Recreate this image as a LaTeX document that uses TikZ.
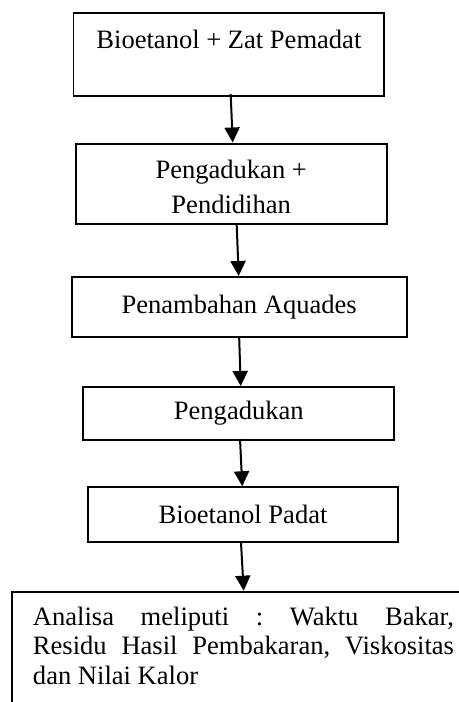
\documentclass[tikz,border=0pt]{standalone}
\usepackage{fontspec}
\setmainfont{Liberation Serif}
\usetikzlibrary{positioning}
\usetikzlibrary{arrows.meta}

\newdimen\pxu
\pxu=0.452pt

\tikzset{
	stepbox/.style={draw, line width=0.9pt, align=center, inner sep=2pt, font=\fontsize{12}{16}\selectfont},
	flow/.style={line width=0.9pt, -{Triangle[length=6.8pt, width=6.8pt]}},
}

\begin{document}
\frenchspacing
\begin{tikzpicture}[x=0.452pt, y=-0.452pt]
		% Page frame
		\clip (0,0) rectangle (459,702);

		% Process steps
		\node[stepbox, minimum width=310.8\pxu, minimum height=83.5\pxu] (bio) at (228.9,54.25) {\rule{0pt}{11pt}Bioetanol + Zat Pemadat\\ \mbox{}};
		\node[stepbox, minimum width=311\pxu, minimum height=80.5\pxu] (didih) at (231.2,183.75) {\rule{0pt}{11pt}Pengadukan +\\ Pendidihan};
		\node[stepbox, minimum width=335\pxu, minimum height=60\pxu] (aquades) at (239.2,307) {Penambahan Aquades};
		\node[stepbox, minimum width=311\pxu, minimum height=53\pxu] (aduk) at (238.8,413.5) {Pengadukan};
		\node[stepbox, minimum width=310.6\pxu, minimum height=54.4\pxu] (padat) at (243,514.5) {Bioetanol Padat};

		% Analysis box, cut by the page
		\node[draw, line width=0.9pt, anchor=north west, text width=421\pxu, align=justify, inner xsep=21\pxu, inner ysep=15\pxu, text depth=40pt, font=\fontsize{12}{13.4}\selectfont\frenchspacing] (analisa) at (11,590.7) {Analisa meliputi : Waktu Bakar,\linebreak Residu Hasil Pembakaran, Viskositas\linebreak dan Nilai Kalor};

		% Arrows
		\draw[flow] ([xshift=1.8\pxu, yshift=3\pxu]bio.south) -- ([xshift=1.5\pxu]didih.north);
		\draw[flow] ([xshift=5.5\pxu]didih.south) -- ([xshift=-0.5\pxu]aquades.north);
		\draw[flow] (aquades.south) -- ([xshift=1.9\pxu]aduk.north);
		\draw[flow] ([xshift=1.2\pxu, yshift=2\pxu]aduk.south) -- ([xshift=-0.7\pxu]padat.north);
		\draw[flow] ([xshift=-2\pxu]padat.south) -- ([xshift=232.7\pxu]analisa.north west);
	\end{tikzpicture}
\end{document}
